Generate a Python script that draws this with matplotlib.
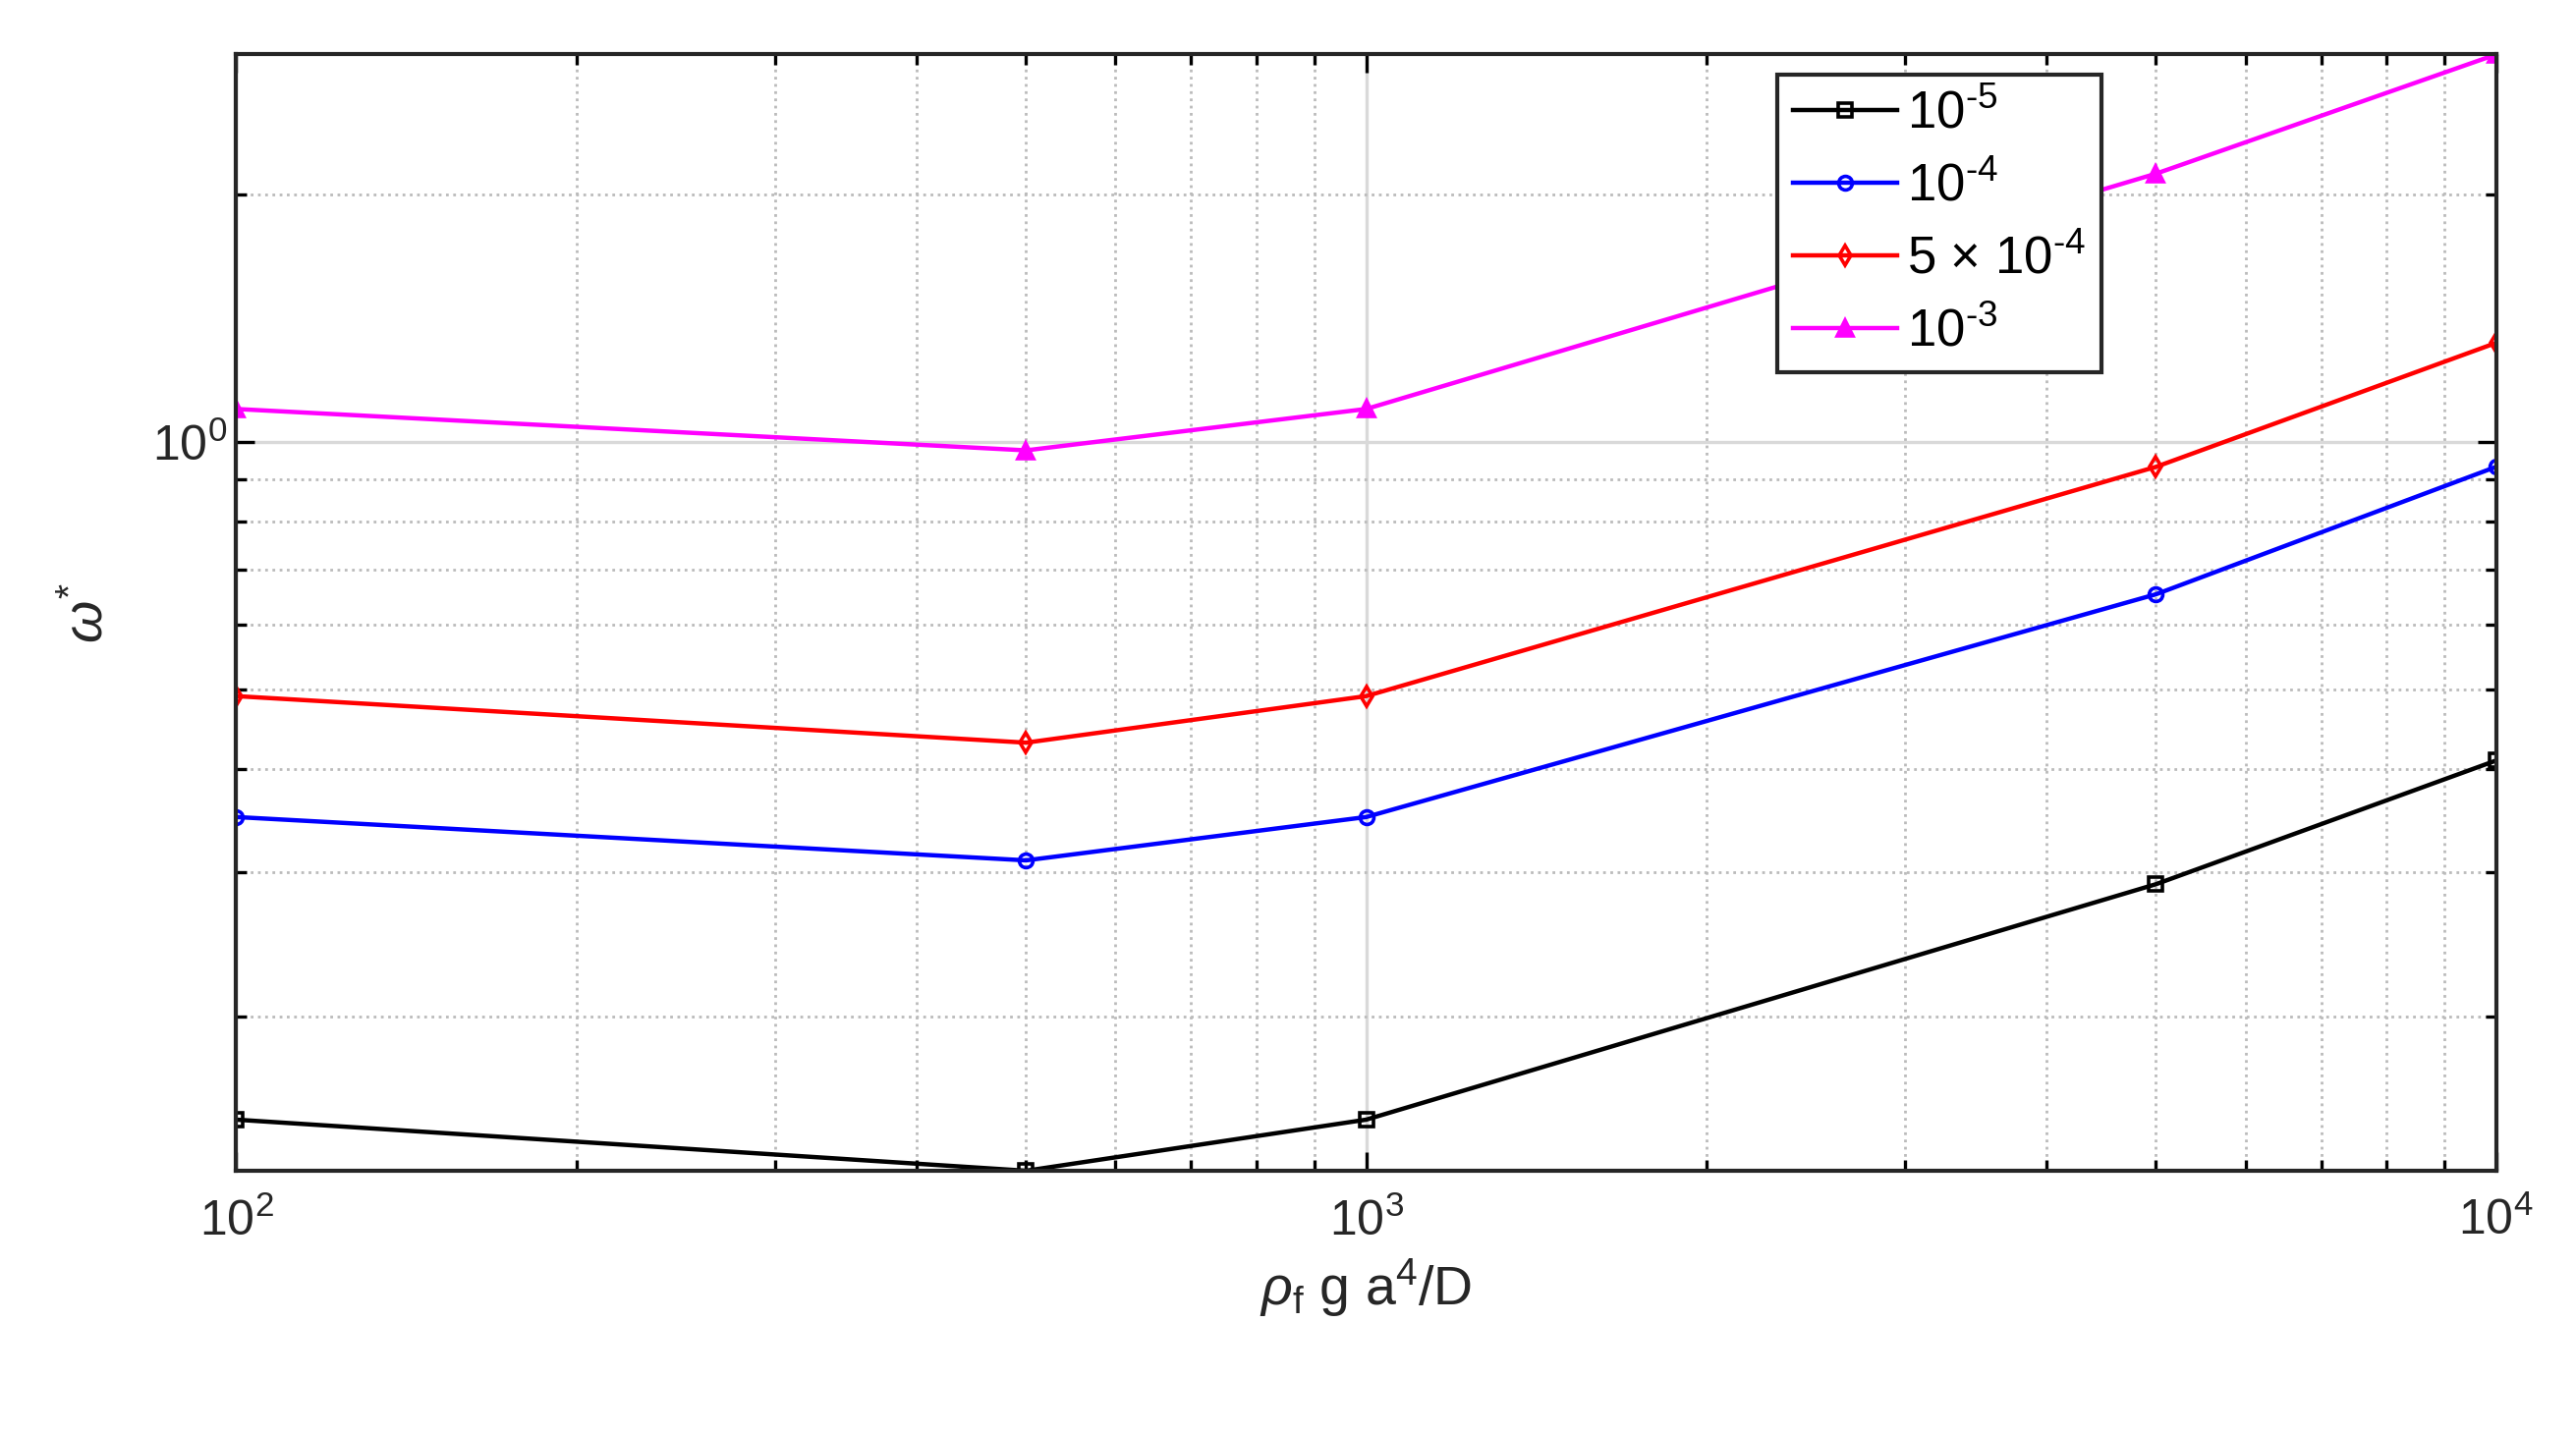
import matplotlib
matplotlib.use("Agg")
import matplotlib.pyplot as plt
from matplotlib.ticker import LogLocator, NullFormatter, FixedLocator

plt.rcParams['font.family'] = ['Liberation Sans', 'DejaVu Sans']
plt.rcParams['mathtext.fontset'] = 'custom'
plt.rcParams['mathtext.rm'] = 'Liberation Sans'
plt.rcParams['mathtext.it'] = 'Liberation Sans:italic'

x = [100, 500, 1000, 5000, 10000]
s_1e5 = [0.150, 0.130, 0.150, 0.290, 0.410]
s_1e4 = [0.350, 0.310, 0.350, 0.653, 0.933]
s_5e4 = [0.491, 0.431, 0.491, 0.933, 1.32]
s_1e3 = [1.097, 0.977, 1.097, 2.12, 2.96]
labels = ['10$^{\\mathregular{\u20105}}$', '10$^{\\mathregular{\u20104}}$',
          '5 $\\times$ 10$^{\\mathregular{\u20104}}$', '10$^{\\mathregular{\u20103}}$']

fig = plt.figure(figsize=(13.11, 7.295), dpi=200)
ax = fig.add_axes([0.0917, 0.183, 0.8773, 0.779])
series = [(s_1e5, 'black', 's'), (s_1e4, 'blue', 'o'), (s_5e4, 'red', 'd'), (s_1e3, 'magenta', '^')]
for (ys, c, m), lab in zip(series, labels):
    kw = dict(markerfacecolor=c) if m == '^' else dict(markerfacecolor='none')
    ax.plot(x, ys, color=c, marker=m, markersize=5 if m != '^' else 6, lw=1.6,
            markeredgewidth=1.3, label=lab, **kw)
ax.set_xscale('log'); ax.set_yscale('log')
ax.set_xlim(100, 10000); ax.set_ylim(0.13, 2.96)
ax.yaxis.set_major_locator(FixedLocator([1.0]))
ax.yaxis.set_minor_locator(LogLocator(base=10, subs=range(2, 10)))
ax.yaxis.set_minor_formatter(NullFormatter())
ax.xaxis.set_minor_formatter(NullFormatter())
ax.grid(True, which='major', color='#d9d9d9', lw=1.2, ls='-')
ax.grid(True, which='minor', color='#bbbbbb', lw=1.0, ls=':')
ax.tick_params(which='both', direction='in', top=True, right=True, labelsize=18,
               width=1.2, labelcolor='#262626')
ax.tick_params(which='major', length=7)
ax.tick_params(which='minor', length=4)
for sp in ax.spines.values():
    sp.set_linewidth(1.5); sp.set_color('#262626')
ax.tick_params(axis='x', pad=10)
ax.set_xlabel(r'$\rho_{\mathregular{f}}$ g a$^{\mathregular{4}}$/D', fontsize=20, color='#262626')
ax.set_ylabel(r'$\omega^{*}$', fontsize=20, color='#262626', labelpad=14)
leg = ax.legend(loc='upper left', bbox_to_anchor=(0.682, 0.982), fontsize=19,
                fancybox=False, framealpha=1, edgecolor='#262626', handlelength=2.0,
                borderpad=0.3, labelspacing=0.45, handletextpad=0.2, borderaxespad=0)
leg.get_frame().set_linewidth(1.5)
fig.savefig('out.png', dpi=200)
